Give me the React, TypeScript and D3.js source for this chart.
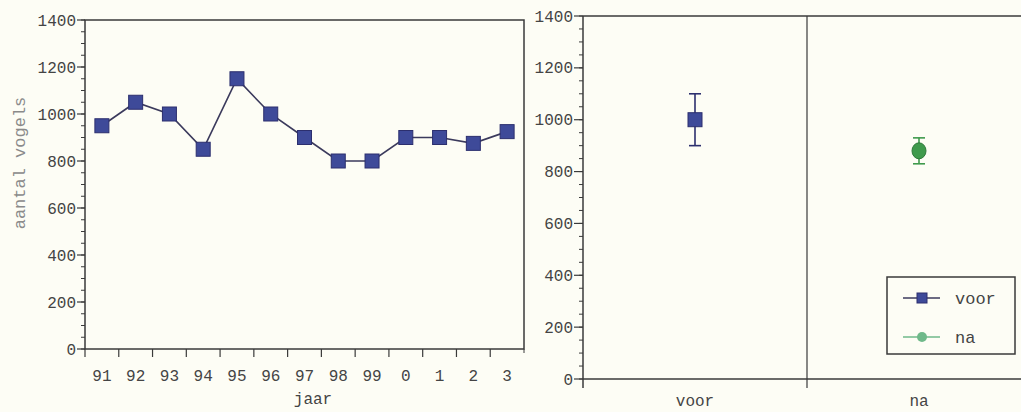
import React from "react";
import * as d3 from "d3";

const years = ["91", "92", "93", "94", "95", "96", "97", "98", "99", "0", "1", "2", "3"];
const counts = [950, 1050, 1000, 850, 1150, 1000, 900, 800, 800, 900, 900, 875, 925];
const periods = ["voor", "na"];
const periodMeans = [1000, 880];
const periodLow = [900, 830];
const periodHigh = [1100, 930];
const yTicks = [0, 200, 400, 600, 800, 1000, 1200, 1400];
const yMinor = d3.range(0, 1401, 50);
const legendItems = ["voor", "na"];

const W = 1021;
const H = 412;
const BG = "#fdfdf5";
const AX = "#3a3a3a";
const TXT = "#444";
const FONT = "'Liberation Mono', 'Courier New', monospace";
const BLUE = "#3e4a99";
const BLUE_D = "#2c2f6e";
const LINE = "#3b3a5c";
const GREEN = "#3f9a4c";
const GREEN_L = "#6fb98a";

export default function App() {
  // left panel
  const xL = d3.scaleBand<string>().domain(years).range([85, 524]).padding(0);
  const yL = d3.scaleLinear().domain([0, 1400]).range([349, 20]);
  const lineGen = d3
    .line<number>()
    .x((_, i) => (xL(years[i]) as number) + xL.bandwidth() / 2)
    .y((d) => yL(d));

  // right panel
  const xR = d3.scaleBand<string>().domain(periods).range([583, 1031]).padding(0);
  const yR = d3.scaleLinear().domain([0, 1400]).range([379, 16]);

  const lx0 = 85, lx1 = 524;
  const rx0 = 583, rx1 = 1031;
  const msz = 14;

  return (
    <svg width={W} height={H} style={{ position: "absolute", left: 0, top: 0, background: BG }}>
      <rect x={0} y={0} width={W} height={H} fill={BG} />
      {/* LEFT PANEL */}
      <g fontFamily={FONT} fill={TXT}>
        {yMinor.map((v) => (
          <line key={"lm" + v} x1={lx0 - 4} x2={lx0} y1={yL(v)} y2={yL(v)} stroke={AX} strokeWidth={1} />
        ))}
        {yTicks.map((v) => (
          <g key={"lt" + v}>
            <line x1={lx0 - 8} x2={lx0} y1={yL(v)} y2={yL(v)} stroke={AX} strokeWidth={1.2} />
            <text x={lx0 - 9} y={yL(v)} dy="0.35em" textAnchor="end" fontSize={16}>
              {v}
            </text>
          </g>
        ))}
        {years.map((y) => (
          <line
            key={"xt" + y}
            x1={xL(y) as number}
            x2={xL(y) as number}
            y1={yL(0)}
            y2={yL(0) + 8}
            stroke={AX}
            strokeWidth={1.2}
          />
        ))}
        <line x1={lx1} x2={lx1} y1={yL(0)} y2={yL(0) + 4} stroke={AX} strokeWidth={1} />
        {years.map((y) => (
          <text
            key={"xl" + y}
            x={(xL(y) as number) + xL.bandwidth() / 2}
            y={375}
            dy="0.35em"
            textAnchor="middle"
            fontSize={16}
          >
            {y}
          </text>
        ))}
        <rect x={lx0} y={yL(1400)} width={lx1 - lx0} height={yL(0) - yL(1400)} fill="none" stroke={AX} strokeWidth={1.5} />
        <text x={313} y={404} textAnchor="middle" fontSize={16}>
          jaar
        </text>
        <text
          transform={`translate(19,163) rotate(-90)`}
          dy="0.35em"
          textAnchor="middle"
          fontSize={17}
          fill="#8a8a8a"
        >
          aantal vogels
        </text>
        <path d={lineGen(counts) || ""} fill="none" stroke={LINE} strokeWidth={1.6} />
        {counts.map((v, i) => {
          const cx = (xL(years[i]) as number) + xL.bandwidth() / 2;
          return (
            <rect
              key={"m" + i}
              x={cx - msz / 2}
              y={yL(v) - msz / 2}
              width={msz}
              height={msz}
              fill={BLUE}
              stroke={BLUE_D}
              strokeWidth={1}
            />
          );
        })}
      </g>

      {/* RIGHT PANEL */}
      <g fontFamily={FONT} fill={TXT}>
        {yMinor.map((v) => (
          <line key={"rm" + v} x1={rx0 - 4} x2={rx0} y1={yR(v)} y2={yR(v)} stroke={AX} strokeWidth={1} />
        ))}
        {yTicks.map((v) => (
          <g key={"rt" + v}>
            <line x1={rx0 - 9} x2={rx0} y1={yR(v)} y2={yR(v)} stroke={AX} strokeWidth={1.2} />
            <text x={rx0 - 10} y={yR(v)} dy="0.35em" textAnchor="end" fontSize={16}>
              {v}
            </text>
          </g>
        ))}
        <line x1={rx0} x2={rx0} y1={yR(1400)} y2={yR(0) + 9} stroke={AX} strokeWidth={1.5} />
        <line x1={rx0} x2={rx1} y1={yR(1400)} y2={yR(1400)} stroke={AX} strokeWidth={1.5} />
        <line x1={rx0} x2={rx1} y1={yR(0)} y2={yR(0)} stroke={AX} strokeWidth={1.5} />
        {periods.slice(1).map((p) => (
          <line
            key={"div" + p}
            x1={xR(p) as number}
            x2={xR(p) as number}
            y1={yR(1400)}
            y2={yR(0) + 9}
            stroke={AX}
            strokeWidth={1.2}
          />
        ))}
        {periods.map((p) => (
          <text
            key={"pl" + p}
            x={(xR(p) as number) + xR.bandwidth() / 2}
            y={406}
            textAnchor="middle"
            fontSize={16}
          >
            {p}
          </text>
        ))}
        {periods.map((p, i) => {
          const cx = (xR(p) as number) + xR.bandwidth() / 2;
          const col = i === 0 ? BLUE_D : GREEN;
          return (
            <g key={"eb" + p}>
              <line x1={cx} x2={cx} y1={yR(periodHigh[i])} y2={yR(periodLow[i])} stroke={col} strokeWidth={1.6} />
              <line x1={cx - 6} x2={cx + 6} y1={yR(periodHigh[i])} y2={yR(periodHigh[i])} stroke={col} strokeWidth={1.6} />
              <line x1={cx - 6} x2={cx + 6} y1={yR(periodLow[i])} y2={yR(periodLow[i])} stroke={col} strokeWidth={1.6} />
              {i === 0 ? (
                <rect
                  x={cx - 7}
                  y={yR(periodMeans[i]) - 7}
                  width={14}
                  height={14}
                  fill={BLUE}
                  stroke={BLUE_D}
                />
              ) : (
                <ellipse cx={cx} cy={yR(periodMeans[i])} rx={7} ry={8} fill={GREEN} stroke="#2f7a3a" />
              )}
            </g>
          );
        })}
        {/* legend */}
        <rect x={887} y={277} width={128} height={77} fill={BG} stroke={AX} strokeWidth={1.5} />
        {legendItems.map((name, i) => {
          const ly = 298 + i * 39;
          const col = i === 0 ? LINE : GREEN_L;
          return (
            <g key={"lg" + name}>
              <line x1={903} x2={940} y1={ly} y2={ly} stroke={col} strokeWidth={1.6} />
              {i === 0 ? (
                <rect x={917} y={ly - 5} width={10} height={10} fill={BLUE} stroke={BLUE_D} />
              ) : (
                <circle cx={922} cy={ly} r={5} fill={GREEN_L} />
              )}
              <text x={955} y={ly} dy="0.35em" fontSize={17}>
                {name}
              </text>
            </g>
          );
        })}
      </g>
    </svg>
  );
}
